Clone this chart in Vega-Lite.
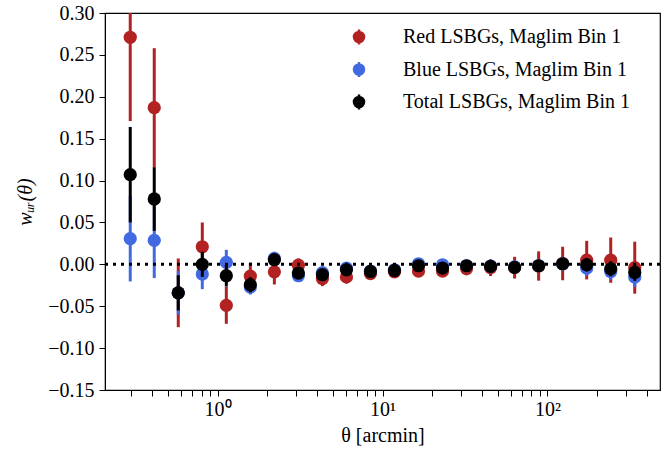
{
  "$schema": "https://vega.github.io/schema/vega-lite/v6.json",
  "width": 555,
  "height": 377,
  "autosize": {"type": "none"},
  "padding": {"left": 105, "top": 13, "right": 11, "bottom": 63},
  "background": "white",
  "datasets": {
    "pts": [
      {"theta": 0.2957, "series": "Red LSBGs, Maglim Bin 1", "w": 0.271, "lo": 0.171, "hi": 0.371},
      {"theta": 0.4134, "series": "Red LSBGs, Maglim Bin 1", "w": 0.187, "lo": 0.116, "hi": 0.258},
      {"theta": 0.5781, "series": "Red LSBGs, Maglim Bin 1", "w": -0.034, "lo": -0.075, "hi": 0.007},
      {"theta": 0.8084, "series": "Red LSBGs, Maglim Bin 1", "w": 0.021, "lo": -0.008, "hi": 0.050},
      {"theta": 1.1305, "series": "Red LSBGs, Maglim Bin 1", "w": -0.049, "lo": -0.071, "hi": -0.027},
      {"theta": 1.5808, "series": "Red LSBGs, Maglim Bin 1", "w": -0.014, "lo": -0.030, "hi": 0.002},
      {"theta": 2.2106, "series": "Red LSBGs, Maglim Bin 1", "w": -0.009, "lo": -0.024, "hi": 0.006},
      {"theta": 3.0913, "series": "Red LSBGs, Maglim Bin 1", "w": -0.001, "lo": -0.009, "hi": 0.007},
      {"theta": 4.3228, "series": "Red LSBGs, Maglim Bin 1", "w": -0.017, "lo": -0.026, "hi": -0.008},
      {"theta": 6.045, "series": "Red LSBGs, Maglim Bin 1", "w": -0.015, "lo": -0.023, "hi": -0.007},
      {"theta": 8.4532, "series": "Red LSBGs, Maglim Bin 1", "w": -0.011, "lo": -0.018, "hi": -0.004},
      {"theta": 11.821, "series": "Red LSBGs, Maglim Bin 1", "w": -0.009, "lo": -0.016, "hi": -0.002},
      {"theta": 16.53, "series": "Red LSBGs, Maglim Bin 1", "w": -0.008, "lo": -0.015, "hi": -0.001},
      {"theta": 23.115, "series": "Red LSBGs, Maglim Bin 1", "w": -0.008, "lo": -0.015, "hi": -0.001},
      {"theta": 32.324, "series": "Red LSBGs, Maglim Bin 1", "w": -0.005, "lo": -0.013, "hi": 0.003},
      {"theta": 45.201, "series": "Red LSBGs, Maglim Bin 1", "w": -0.004, "lo": -0.014, "hi": 0.006},
      {"theta": 63.21, "series": "Red LSBGs, Maglim Bin 1", "w": -0.004, "lo": -0.017, "hi": 0.009},
      {"theta": 88.39, "series": "Red LSBGs, Maglim Bin 1", "w": -0.002, "lo": -0.0195, "hi": 0.0155},
      {"theta": 123.6, "series": "Red LSBGs, Maglim Bin 1", "w": 0.001, "lo": -0.019, "hi": 0.021},
      {"theta": 172.9, "series": "Red LSBGs, Maglim Bin 1", "w": 0.005, "lo": -0.018, "hi": 0.028},
      {"theta": 241.8, "series": "Red LSBGs, Maglim Bin 1", "w": 0.005, "lo": -0.022, "hi": 0.032},
      {"theta": 338.1, "series": "Red LSBGs, Maglim Bin 1", "w": -0.004, "lo": -0.035, "hi": 0.027},
      {"theta": 0.2957, "series": "Blue LSBGs, Maglim Bin 1", "w": 0.0306, "lo": -0.0204, "hi": 0.0816},
      {"theta": 0.4134, "series": "Blue LSBGs, Maglim Bin 1", "w": 0.0286, "lo": -0.0164, "hi": 0.0736},
      {"theta": 0.5781, "series": "Blue LSBGs, Maglim Bin 1", "w": -0.034, "lo": -0.060, "hi": -0.008},
      {"theta": 0.8084, "series": "Blue LSBGs, Maglim Bin 1", "w": -0.0116, "lo": -0.0296, "hi": 0.0064},
      {"theta": 1.1305, "series": "Blue LSBGs, Maglim Bin 1", "w": 0.0023, "lo": -0.0127, "hi": 0.0173},
      {"theta": 1.5808, "series": "Blue LSBGs, Maglim Bin 1", "w": -0.027, "lo": -0.036, "hi": -0.018},
      {"theta": 2.2106, "series": "Blue LSBGs, Maglim Bin 1", "w": 0.007, "lo": -0.001, "hi": 0.015},
      {"theta": 3.0913, "series": "Blue LSBGs, Maglim Bin 1", "w": -0.0136, "lo": -0.0196, "hi": -0.0076},
      {"theta": 4.3228, "series": "Blue LSBGs, Maglim Bin 1", "w": -0.010, "lo": -0.016, "hi": -0.004},
      {"theta": 6.045, "series": "Blue LSBGs, Maglim Bin 1", "w": -0.0045, "lo": -0.0095, "hi": 0.0005},
      {"theta": 8.4532, "series": "Blue LSBGs, Maglim Bin 1", "w": -0.008, "lo": -0.013, "hi": -0.003},
      {"theta": 11.821, "series": "Blue LSBGs, Maglim Bin 1", "w": -0.0065, "lo": -0.0115, "hi": -0.0015},
      {"theta": 16.53, "series": "Blue LSBGs, Maglim Bin 1", "w": 0.0007, "lo": -0.0043, "hi": 0.0057},
      {"theta": 23.115, "series": "Blue LSBGs, Maglim Bin 1", "w": -0.0005, "lo": -0.0055, "hi": 0.0045},
      {"theta": 32.324, "series": "Blue LSBGs, Maglim Bin 1", "w": -0.0017, "lo": -0.0067, "hi": 0.0033},
      {"theta": 45.201, "series": "Blue LSBGs, Maglim Bin 1", "w": -0.002, "lo": -0.007, "hi": 0.003},
      {"theta": 63.21, "series": "Blue LSBGs, Maglim Bin 1", "w": -0.003, "lo": -0.009, "hi": 0.003},
      {"theta": 88.39, "series": "Blue LSBGs, Maglim Bin 1", "w": -0.0017, "lo": -0.0087, "hi": 0.0053},
      {"theta": 123.6, "series": "Blue LSBGs, Maglim Bin 1", "w": 0.0005, "lo": -0.0075, "hi": 0.0085},
      {"theta": 172.9, "series": "Blue LSBGs, Maglim Bin 1", "w": -0.0045, "lo": -0.0135, "hi": 0.0045},
      {"theta": 241.8, "series": "Blue LSBGs, Maglim Bin 1", "w": -0.0085, "lo": -0.0185, "hi": 0.0015},
      {"theta": 338.1, "series": "Blue LSBGs, Maglim Bin 1", "w": -0.0152, "lo": -0.0272, "hi": -0.0032},
      {"theta": 0.2957, "series": "Total LSBGs, Maglim Bin 1", "w": 0.107, "lo": 0.050, "hi": 0.164},
      {"theta": 0.4134, "series": "Total LSBGs, Maglim Bin 1", "w": 0.078, "lo": 0.040, "hi": 0.116},
      {"theta": 0.5781, "series": "Total LSBGs, Maglim Bin 1", "w": -0.034, "lo": -0.055, "hi": -0.013},
      {"theta": 0.8084, "series": "Total LSBGs, Maglim Bin 1", "w": 0.0, "lo": -0.015, "hi": 0.015},
      {"theta": 1.1305, "series": "Total LSBGs, Maglim Bin 1", "w": -0.0136, "lo": -0.0266, "hi": -0.0006},
      {"theta": 1.5808, "series": "Total LSBGs, Maglim Bin 1", "w": -0.0244, "lo": -0.0334, "hi": -0.0154},
      {"theta": 2.2106, "series": "Total LSBGs, Maglim Bin 1", "w": 0.0055, "lo": -0.0015, "hi": 0.0125},
      {"theta": 3.0913, "series": "Total LSBGs, Maglim Bin 1", "w": -0.0104, "lo": -0.0154, "hi": -0.0054},
      {"theta": 4.3228, "series": "Total LSBGs, Maglim Bin 1", "w": -0.0124, "lo": -0.0174, "hi": -0.0074},
      {"theta": 6.045, "series": "Total LSBGs, Maglim Bin 1", "w": -0.0065, "lo": -0.0105, "hi": -0.0025},
      {"theta": 8.4532, "series": "Total LSBGs, Maglim Bin 1", "w": -0.0085, "lo": -0.0125, "hi": -0.0045},
      {"theta": 11.821, "series": "Total LSBGs, Maglim Bin 1", "w": -0.0073, "lo": -0.0113, "hi": -0.0033},
      {"theta": 16.53, "series": "Total LSBGs, Maglim Bin 1", "w": -0.0017, "lo": -0.0057, "hi": 0.0023},
      {"theta": 23.115, "series": "Total LSBGs, Maglim Bin 1", "w": -0.0045, "lo": -0.0085, "hi": -0.0005},
      {"theta": 32.324, "series": "Total LSBGs, Maglim Bin 1", "w": -0.0017, "lo": -0.0057, "hi": 0.0023},
      {"theta": 45.201, "series": "Total LSBGs, Maglim Bin 1", "w": -0.0025, "lo": -0.0065, "hi": 0.0015},
      {"theta": 63.21, "series": "Total LSBGs, Maglim Bin 1", "w": -0.0037, "lo": -0.0087, "hi": 0.0013},
      {"theta": 88.39, "series": "Total LSBGs, Maglim Bin 1", "w": -0.0017, "lo": -0.0077, "hi": 0.0043},
      {"theta": 123.6, "series": "Total LSBGs, Maglim Bin 1", "w": 0.0007, "lo": -0.0063, "hi": 0.0077},
      {"theta": 172.9, "series": "Total LSBGs, Maglim Bin 1", "w": -0.0005, "lo": -0.0085, "hi": 0.0075},
      {"theta": 241.8, "series": "Total LSBGs, Maglim Bin 1", "w": -0.0053, "lo": -0.0143, "hi": 0.0037},
      {"theta": 338.1, "series": "Total LSBGs, Maglim Bin 1", "w": -0.0097, "lo": -0.0197, "hi": 0.0003}
    ],
    "zero": [{"w": 0}]
  },
  "data": {"name": "pts"},
  "layer": [
    {"transform": [{"filter": "datum.series == 'Red LSBGs, Maglim Bin 1'"}],
     "mark": {"type": "rule", "strokeWidth": 3},
     "encoding": {
       "x": {"field": "theta", "type": "quantitative", "scale": {"type": "log", "domain": [0.2079, 481], "nice": false},
             "axis": {"title": "θ [arcmin]", "values": [0.3, 0.4, 0.5, 0.6, 0.7, 0.8, 0.9, 1.0001, 2, 3, 4, 5, 6, 7, 8, 9, 10.001, 20, 30, 40, 50, 60, 70, 80, 90, 100.01, 200, 300, 400],
                      "labelExpr": "abs(datum.value - 1) < 0.01 ? '10⁰' : abs(datum.value - 10) < 0.1 ? '10¹' : abs(datum.value - 100) < 1 ? '10²' : ''",
                      "encode": {"ticks": {"update": {"y2": {"signal": "(abs(datum.value - 1) < 0.01 || abs(datum.value - 10) < 0.1 || abs(datum.value - 100) < 1) ? 6 : 3.5"}}}}}},
       "y": {"field": "lo", "type": "quantitative", "scale": {"domain": [-0.15, 0.30], "nice": false, "zero": false, "clamp": true},
             "axis": {"title": "wᵤᵣ(θ)", "values": [-0.15, -0.10, -0.05, 0.0, 0.05, 0.10, 0.15, 0.20, 0.25, 0.30], "format": ".2f"}},
       "y2": {"field": "hi"},
       "color": {"field": "series", "type": "nominal",
                 "scale": {"domain": ["Red LSBGs, Maglim Bin 1", "Blue LSBGs, Maglim Bin 1", "Total LSBGs, Maglim Bin 1"], "range": ["#b22222", "#4169e1", "#000000"]},
                 "legend": {"title": null, "orient": "none", "legendX": 244, "legendY": 14, "padding": 0,
                            "symbolType": "M0,-1L0,1M-0.67,0A0.67,0.67 0 1,0 0.67,0A0.67,0.67 0 1,0 -0.67,0Z",
                            "symbolSize": 225, "symbolStrokeWidth": 2.5, "symbolOpacity": 1, "labelFontSize": 20, "labelLimit": 400,
                            "labelOffset": 34, "rowPadding": 6.5, "labelColor": "black", "labelFont": "Liberation Serif",
                            "encode": {"symbols": {"update": {"stroke": {"scale": "color", "field": "value"}, "fill": {"scale": "color", "field": "value"}, "opacity": {"value": 1}}}}}}
     }},
    {"transform": [{"filter": "datum.series == 'Red LSBGs, Maglim Bin 1'"}],
     "mark": {"type": "point", "filled": true, "opacity": 1, "size": 175},
     "encoding": {
       "x": {"field": "theta", "type": "quantitative"},
       "y": {"field": "w", "type": "quantitative"},
       "color": {"field": "series", "type": "nominal"}
     }},
    {"transform": [{"filter": "datum.series == 'Blue LSBGs, Maglim Bin 1'"}],
     "mark": {"type": "rule", "strokeWidth": 3},
     "encoding": {
       "x": {"field": "theta", "type": "quantitative"},
       "y": {"field": "lo", "type": "quantitative"},
       "y2": {"field": "hi"},
       "color": {"field": "series", "type": "nominal"}
     }},
    {"transform": [{"filter": "datum.series == 'Blue LSBGs, Maglim Bin 1'"}],
     "mark": {"type": "point", "filled": true, "opacity": 1, "size": 175},
     "encoding": {
       "x": {"field": "theta", "type": "quantitative"},
       "y": {"field": "w", "type": "quantitative"},
       "color": {"field": "series", "type": "nominal"}
     }},
    {"transform": [{"filter": "datum.series == 'Total LSBGs, Maglim Bin 1'"}],
     "mark": {"type": "rule", "strokeWidth": 3},
     "encoding": {
       "x": {"field": "theta", "type": "quantitative"},
       "y": {"field": "lo", "type": "quantitative"},
       "y2": {"field": "hi"},
       "color": {"field": "series", "type": "nominal"}
     }},
    {"transform": [{"filter": "datum.series == 'Total LSBGs, Maglim Bin 1'"}],
     "mark": {"type": "point", "filled": true, "opacity": 1, "size": 175},
     "encoding": {
       "x": {"field": "theta", "type": "quantitative"},
       "y": {"field": "w", "type": "quantitative"},
       "color": {"field": "series", "type": "nominal"}
     }},
    {"data": {"name": "zero"},
     "mark": {"type": "rule", "color": "black", "strokeWidth": 3, "strokeDash": [3, 5]},
     "encoding": {"y": {"field": "w", "type": "quantitative"}}}
  ],
  "config": {
    "font": "Liberation Serif",
    "view": {"stroke": "black", "strokeWidth": 1.2},
    "axis": {"grid": false},
    "axisX": {
      "ticks": true, "tickSize": 6, "tickColor": "black", "tickWidth": 1,
      "domainColor": "black", "labelColor": "black", "titleColor": "black",
      "labelFont": "Liberation Serif", "titleFont": "Liberation Serif",
      "labelFontSize": 20, "titleFontSize": 20, "titleFontWeight": "normal",
      "labelOverlap": false, "labelPadding": 3, "titlePadding": 6
    },
    "axisY": {
      "ticks": true, "tickSize": 6, "tickColor": "black", "tickWidth": 1,
      "domainColor": "black", "labelColor": "black", "titleColor": "black",
      "labelFont": "Liberation Serif", "titleFont": "Liberation Serif",
      "labelFontSize": 20, "titleFontSize": 20, "titleFontWeight": "normal", "titleFontStyle": "italic",
      "labelPadding": 5, "titlePadding": 12
    }
  }
}
